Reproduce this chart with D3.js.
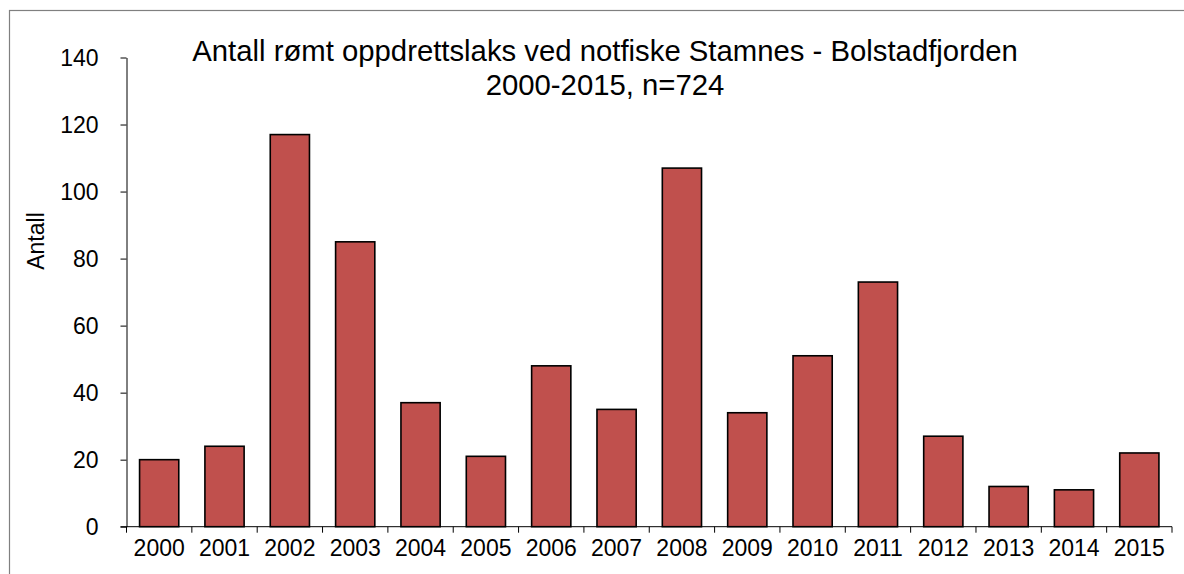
<!DOCTYPE html>
<html>
<head>
<meta charset="utf-8">
<script src="https://cdn.jsdelivr.net/npm/d3@7"></script>
<style>
    body { margin: 0; background: #fff; }
    svg text { font-family: "Liberation Sans", Arial, sans-serif; fill: #000; }
    .axis path, .axis line { stroke: #000; }
</style>
</head>
<body>
<svg id="canvas"></svg>
<script>
const years = ['2000', '2001', '2002', '2003', '2004', '2005', '2006', '2007',
    '2008', '2009', '2010', '2011', '2012', '2013', '2014', '2015'];
const counts = [20, 24, 117, 85, 37, 21, 48, 35, 107, 34, 51, 73, 27, 12, 11, 22];
const yTicks = [0, 20, 40, 60, 80, 100, 120, 140];
const titleLines = ['Antall rømt oppdrettslaks ved notfiske Stamnes - Bolstadfjorden', '2000-2015, n=724'];
const yLabel = 'Antall';

const width = 1184;
const height = 574;

const svg = d3.select('#canvas')
    .attr('width', width)
    .attr('height', height);

// ramme rundt diagrammet
svg.append('rect')
    .attr('x', 9.5)
    .attr('y', 10.5)
    .attr('width', width + 20)
    .attr('height', height + 20)
    .attr('fill', 'none')
    .attr('stroke', '#808080')
    .attr('stroke-width', 1.2);

const plot = { left: 126.5, right: 1172, top: 57.5, bottom: 526.7 };

const x = d3.scaleBand()
    .domain(years)
    .range([plot.left, plot.right])
    .paddingInner(0.4)
    .paddingOuter(0.2);

const y = d3.scaleLinear()
    .domain([0, 140])
    .range([plot.bottom, plot.top]);

// Y-akse
const gy = svg.append('g')
    .attr('class', 'axis')
    .attr('transform', 'translate(' + plot.left + ',0)')
    .call(d3.axisLeft(y).tickValues(yTicks).tickSize(6).tickSizeOuter(0).tickPadding(22));
gy.selectAll('text')
    .style('font-size', '23px')
    .attr('dy', '0.34em');

// stolper
svg.append('g')
    .selectAll('rect')
    .data(counts)
    .join('rect')
    .attr('x', (d, i) => x(years[i]))
    .attr('y', d => y(d))
    .attr('width', x.bandwidth())
    .attr('height', d => y(0) - y(d))
    .attr('fill', '#C0504D')
    .attr('stroke', '#000')
    .attr('stroke-width', 1.6);

// X-akse: etiketter midt i kategorien, tick-streker mellom kategoriene
const gx = svg.append('g')
    .attr('class', 'axis')
    .attr('transform', 'translate(0,' + plot.bottom + ')')
    .call(d3.axisBottom(x).tickSize(0).tickSizeOuter(0).tickPadding(13));
gx.select('.domain').remove();
gx.selectAll('text')
    .style('font-size', '23px')
    .attr('dy', '0.71em');

const step = x.step();
const boundaries = years.map((yr, i) => i === 0 ? plot.left : x(yr) - step * x.paddingInner() / 2);
boundaries.push(plot.right);
gx.selectAll('.bound')
    .data(boundaries)
    .join('line')
    .attr('class', 'bound')
    .attr('x1', d => d)
    .attr('x2', d => d)
    .attr('y1', 0)
    .attr('y2', 6)
    .attr('stroke', '#000');
gx.append('line')
    .attr('x1', plot.left - 6)
    .attr('x2', plot.right)
    .attr('y1', 0)
    .attr('y2', 0)
    .attr('stroke', '#000');

// tittel
svg.append('text')
    .attr('text-anchor', 'middle')
    .style('font-size', '29.3px')
    .selectAll('tspan')
    .data(titleLines)
    .join('tspan')
    .attr('x', 605)
    .attr('y', (d, i) => 61 + i * 34)
    .text(d => d);

// y-aksetittel
svg.append('text')
    .attr('transform', 'translate(44,241) rotate(-90)')
    .attr('text-anchor', 'middle')
    .style('font-size', '23px')
    .text(yLabel);
</script>
</body>
</html>
